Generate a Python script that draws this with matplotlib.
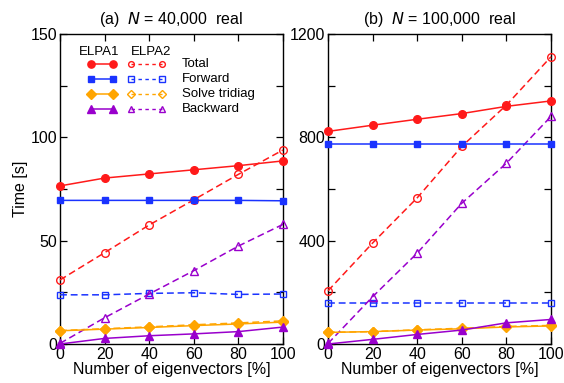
import matplotlib
matplotlib.use("Agg")
import matplotlib.pyplot as plt
from matplotlib.lines import Line2D
from matplotlib.ticker import MultipleLocator

plt.rcParams["font.family"] = ["Liberation Sans", "DejaVu Sans"]

x = [0, 20, 40, 60, 80, 100]

# (a) N = 40,000
a_total1 = [76.5, 80.3, 82.3, 84.3, 86.3, 88.6]
a_total2 = [31.0, 44.2, 57.6, 69.8, 82.1, 93.9]
a_fwd1 = [69.5, 69.5, 69.5, 69.5, 69.5, 69.3]
a_fwd2 = [23.8, 23.8, 24.5, 24.8, 24.0, 24.2]
a_solve1 = [6.4, 7.2, 8.0, 8.9, 9.7, 10.6]
a_solve2 = [6.5, 7.4, 8.3, 9.3, 10.2, 11.2]
a_back1 = [0.0, 2.7, 4.0, 4.9, 6.0, 8.2]
a_back2 = [0.3, 12.7, 24.2, 35.5, 47.4, 57.9]

# (b) N = 100,000
b_total1 = [823, 847, 870, 892, 920, 941]
b_total2 = [206, 391, 566, 765, 925, 1112]
b_fwd1 = [775, 775, 775, 775, 775, 775]
b_fwd2 = [157, 157, 157, 157, 157, 157]
b_solve1 = [45, 48, 54, 59, 66, 70]
b_solve2 = [45, 48, 55, 61, 68, 72]
b_back1 = [0, 18, 37, 54, 82, 95]
b_back2 = [2, 183, 352, 545, 700, 881]

RED = "#ff1a1a"
BLUE = "#1a33ff"
ORANGE = "#ffa500"
PURPLE = "#9900cc"

series = [
    ("Total", RED, "o", 5.5),
    ("Forward", BLUE, "s", 5),
    ("Solve tridiag", ORANGE, "D", 5),
    ("Backward", PURPLE, "^", 6),
]

data_a = [(a_total1, a_total2), (a_fwd1, a_fwd2), (a_solve1, a_solve2), (a_back1, a_back2)]
data_b = [(b_total1, b_total2), (b_fwd1, b_fwd2), (b_solve1, b_solve2), (b_back1, b_back2)]

DASH = (0, (4.5, 2.5))

fig = plt.figure(figsize=(5.64, 3.83), dpi=100)
ax1 = fig.add_axes([0.1064, 0.1018, 0.3954, 0.8094])
ax2 = fig.add_axes([0.5816, 0.1018, 0.3954, 0.8094])


def draw(ax, data, ymax, major, minor):
    for (name, col, mk, ms), (y1, y2) in zip(series, data):
        ax.plot(x, y2, color=col, ls=DASH, lw=1.1, marker=mk, ms=ms,
                mfc="none", mec=col, mew=1.0, clip_on=False, zorder=3)
        ax.plot(x, y1, color=col, ls="-", lw=1.1, marker=mk, ms=ms,
                mfc=col, mec=col, clip_on=False, zorder=4)
    ax.set_xlim(0, 100)
    ax.set_ylim(0, ymax)
    ax.xaxis.set_major_locator(MultipleLocator(20))
    ax.yaxis.set_major_locator(MultipleLocator(major))
    ax.yaxis.set_minor_locator(MultipleLocator(minor))
    ax.tick_params(which="both", direction="in", top=True, right=True,
                   labelsize=11.5, width=0.9, pad=2)
    ax.tick_params(which="major", length=5)
    ax.tick_params(which="minor", length=5)
    for s in ax.spines.values():
        s.set_linewidth(1.0)
    ax.set_xlabel("Number of eigenvectors [%]", fontsize=11.5, labelpad=0)


draw(ax1, data_a, 150, 50, 25)
draw(ax2, data_b, 1200, 400, 200)
ax1.set_ylabel("Time [s]", fontsize=11.5, labelpad=2)

ax1.set_title("(a)  $N$ = 40,000  real", fontsize=11.5, pad=7)
ax2.set_title("(b)  $N$ = 100,000  real", fontsize=11.5, pad=7)

# custom legend in panel (a)
fs = 9.5
ax1.text(0.175, 0.942, "ELPA1", transform=ax1.transAxes, ha="center",
         va="center", fontsize=fs)
ax1.text(0.41, 0.942, "ELPA2", transform=ax1.transAxes, ha="center",
         va="center", fontsize=fs)
rows_y = [0.903, 0.855, 0.806, 0.758]
for (name, col, mk, ms), yy in zip(series, rows_y):
    ax1.add_line(Line2D([0.138, 0.238], [yy, yy], transform=ax1.transAxes,
                        color=col, lw=1.1, marker=mk, ms=ms * 0.95,
                        mfc=col, mec=col))
    ax1.add_line(Line2D([0.318, 0.458], [yy, yy], transform=ax1.transAxes,
                        color=col, lw=1.0, ls=(0, (2.5, 2.5)), marker=mk,
                        ms=ms * 0.75, mfc="none", mec=col))
    ax1.text(0.545, yy, name, transform=ax1.transAxes, ha="left",
             va="center", fontsize=fs)

fig.savefig("out.png", dpi=100)
